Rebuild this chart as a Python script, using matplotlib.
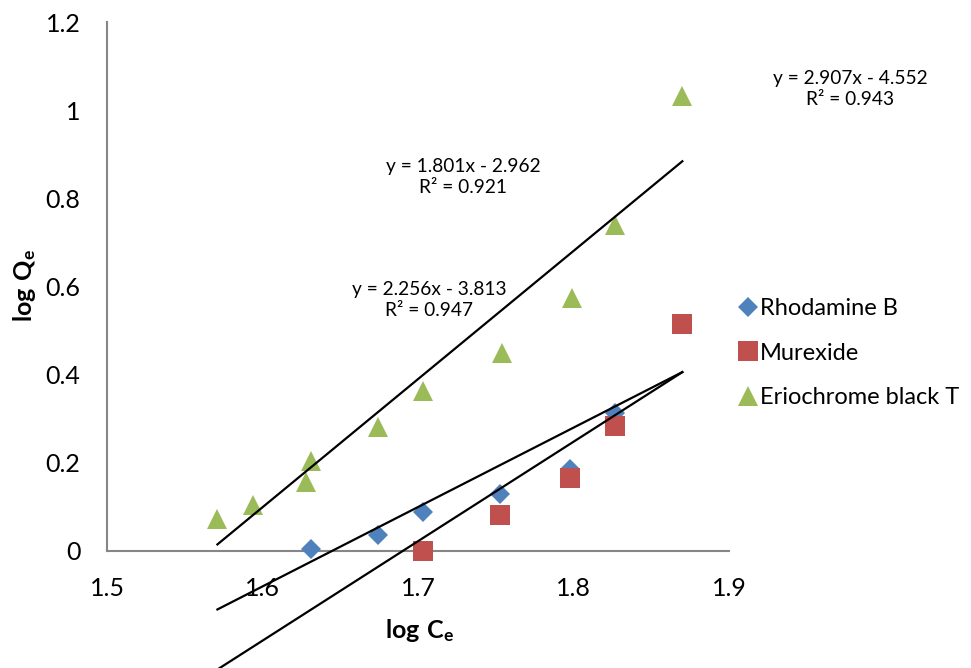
import numpy as np
import matplotlib
matplotlib.use("Agg")
import matplotlib.pyplot as plt
from matplotlib.lines import Line2D

plt.rcParams["font.family"] = ["Lato", "DejaVu Sans"]
plt.rcParams["mathtext.fontset"] = "custom"
plt.rcParams["mathtext.rm"] = "Lato"
plt.rcParams["mathtext.bf"] = "Lato:bold"

# log Ce / log Qe for each dye
rhodamine_x = [1.631, 1.674, 1.703, 1.753, 1.798, 1.827, 1.870]
rhodamine_y = [0.005, 0.036, 0.089, 0.130, 0.186, 0.314, 0.514]
murexide_x = [1.703, 1.753, 1.798, 1.827, 1.870]
murexide_y = [0.000, 0.082, 0.166, 0.284, 0.516]
eriochrome_x = [1.571, 1.594, 1.628, 1.631, 1.674, 1.703, 1.754, 1.799, 1.827, 1.870]
eriochrome_y = [0.073, 0.105, 0.157, 0.205, 0.282, 0.364, 0.450, 0.575, 0.739, 1.032]

series_names = ["Rhodamine B", "Murexide", "Eriochrome black T"]
slopes = [1.801, 2.256, 2.907]
intercepts = [-2.962, -3.813, -4.552]
r_squared = [0.921, 0.947, 0.943]

colors = ["#4F81BD", "#C0504D", "#9BBB59"]
markers = ["D", "s", "^"]
msizes = [10.5, 15, 15]

fig = plt.figure(figsize=(9.71, 6.68), dpi=100)
ax = fig.add_axes([107 / 971, 0, 622 / 971, 1 - 22 / 668])
ax.set_xlim(1.5, 1.9)
ax.set_ylim(-(668 - 551) / 440.8, 1.2)

xs = [rhodamine_x, murexide_x, eriochrome_x]
ys = [rhodamine_y, murexide_y, eriochrome_y]
for x, y, c, m, ms, name in zip(xs, ys, colors, markers, msizes, series_names):
    ax.plot(x, y, linestyle="none", marker=m, markersize=ms, color=c,
            markeredgewidth=0, label=name, zorder=3)

# linear trendlines over the full range of log Ce
x_all = np.concatenate([np.array(v) for v in xs])
x_fit = np.array([x_all.min(), x_all.max()])
for k, b in zip(slopes, intercepts):
    ax.plot(x_fit, k * x_fit + b, color="black", lw=1.6, zorder=4)

# equation labels (figure pixel positions)
label_pos = [(463, 177), (429, 300), (850, 89)]
for (px, py), k, b, r2 in zip(label_pos, slopes, intercepts, r_squared):
    fig.text(px / 971, 1 - py / 668,
             f"y = {k:.3f}x - {abs(b):.3f}\nR² = {r2:.3f}",
             ha="center", va="center", fontsize=13.8, linespacing=1.3)

for s in ["top", "right"]:
    ax.spines[s].set_visible(False)
ax.spines["left"].set_bounds(0, 1.2)
ax.spines["bottom"].set_position(("data", 0))
for s in ["left", "bottom"]:
    ax.spines[s].set_color("#868686")
    ax.spines[s].set_linewidth(1.5)

ax.set_xticks([1.5, 1.6, 1.7, 1.8, 1.9])
ax.set_xticklabels(["1.5", "1.6", "1.7", "1.8", "1.9"])
ax.set_yticks([0, 0.2, 0.4, 0.6, 0.8, 1.0, 1.2])
ax.set_yticklabels(["0", "0.2", "0.4", "0.6", "0.8", "1", "1.2"])
ax.tick_params(axis="both", length=0, labelsize=18)
ax.tick_params(axis="x", pad=19)
ax.tick_params(axis="y", pad=19)

fig.text(420 / 971, 1 - 630 / 668, r"$\mathbf{log\ C_e}$", ha="center",
         va="center", fontsize=18)
fig.text(25 / 971, 1 - 285 / 668, r"$\mathbf{log\ Q_e}$", ha="center",
         va="center", fontsize=18, rotation=90)

handles = [Line2D([], [], linestyle="none", marker=m, markersize=ms * 0.95,
                  color=c, markeredgewidth=0)
           for c, m, ms in zip(colors, markers, msizes)]
fig.legend(handles, series_names, loc="center left",
           bbox_to_anchor=(730 / 971, 1 - 353 / 668), frameon=False,
           fontsize=17, handlelength=0.75, handletextpad=0.1,
           labelspacing=1.0, borderaxespad=0)

fig.savefig("out.png", dpi=100)
